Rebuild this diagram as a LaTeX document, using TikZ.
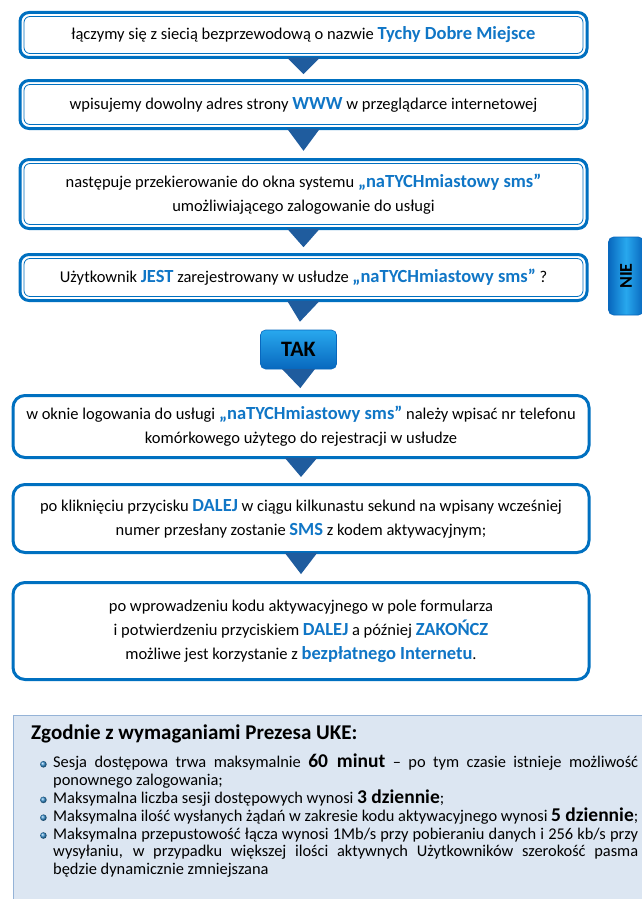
\documentclass[tikz,border=0pt]{standalone}
\usepackage{fontspec}
\setmainfont{Carlito}
\usetikzlibrary{positioning,calc}

\definecolor{ramka}{RGB}{0,112,192}
\definecolor{niebieski}{RGB}{16,118,198}
\definecolor{strzalka}{RGB}{31,92,158}
\definecolor{tlo}{RGB}{220,230,242}
\definecolor{obrys}{RGB}{149,179,215}
\definecolor{jasny}{RGB}{40,168,238}
\definecolor{ciemny}{RGB}{8,104,190}

\newcommand{\tekst}{\fontsize{16.5}{24}\selectfont}
\newcommand{\wyr}[1]{\textcolor{niebieski}{\bfseries\fontsize{18.5}{24}\selectfont #1}}
\newcommand{\grub}[1]{{\bfseries\fontsize{19.5}{17.8}\selectfont #1}}
\newcommand{\kropka}{\tikz[baseline=-3.6pt]\shade[ball color=ramka!80] (0,0) circle (3.3pt);}
\newcommand{\punkt}{\leavevmode\llap{\kropka\hspace{6.5pt}}}
\newcommand{\trojkat}[2]{\fill[strzalka] ($(#1.south)+(-16.5pt,0)$) -- ($(#1.south)+(16.5pt,0)$)
  -- ($(#1.south)!0.72!(#2.north)$) -- cycle;}

\begin{document}
\begin{tikzpicture}[x=1pt,y=1pt,
    krok/.style={draw=ramka,line width=3pt,rounded corners=9pt,fill=white,minimum width=567pt,
      align=center,font=\tekst,outer sep=0pt,inner sep=0pt},
    etap/.style={krok,rounded corners=12pt,minimum width=576pt},
    wewn/.style={draw=ramka,line width=0.8pt,rounded corners=6pt},
    przycisk/.style={rounded corners=5pt,top color=jasny,bottom color=ciemny,draw=ciemny,
      line width=0.6pt,font=\bfseries\fontsize{22}{22}\selectfont,outer sep=0pt}]
  \useasboundingbox (0,0) rectangle (641,-899);

  \node[krok,minimum height=45pt] (k1) at (303.5,-35)
    {łączymy się z siecią bezprzewodową o nazwie \wyr{Tychy Dobre Miejsce}};
  \node[krok,minimum height=48pt] (k2) [below=23pt of k1]
    {wpisujemy dowolny adres strony \wyr{WWW} w przeglądarce internetowej};
  \node[krok,minimum height=69pt] (k3) [below=31pt of k2]
    {następuje przekierowanie do okna systemu \wyr{„naTYCHmiastowy sms”}\\
     umożliwiającego zalogowanie do usługi};
  \node[krok,minimum height=46pt] (k4) [below=26pt of k3]
    {Użytkownik \wyr{JEST} zarejestrowany w usłudze \wyr{„naTYCHmiastowy sms”} ?};
  \foreach \n in {k1,k2,k3,k4}
    \draw[wewn] ($(\n.north west)+(4pt,-4pt)$) rectangle ($(\n.south east)+(-4pt,4pt)$);

  \node[przycisk,minimum width=76pt,minimum height=39pt] (tak) [below=29.5pt of k4,xshift=-5pt] {TAK};
  \node[przycisk,left color=ciemny,right color=ciemny,middle color=jasny,minimum width=78pt,
    minimum height=35pt,font=\bfseries\fontsize{18}{18}\selectfont,rotate=90] (nie) at (626,-276) {NIE};

  \node[etap,minimum height=62pt] (k5) [below=26.5pt of tak,xshift=2.5pt]
    {w oknie logowania do usługi \wyr{„naTYCHmiastowy sms”} należy wpisać nr telefonu\\
     komórkowego użytego do rejestracji w usłudze};
  \node[etap,minimum height=68pt] (k6) [below=27pt of k5]
    {po kliknięciu przycisku \wyr{DALEJ} w ciągu kilkunastu sekund na wpisany wcześniej\\
     numer przesłany zostanie \wyr{SMS} z kodem aktywacyjnym;};
  \node[etap,minimum height=97pt] (k7) [below=30pt of k6]
    {po wprowadzeniu kodu aktywacyjnego w pole formularza\\
     i potwierdzeniu przyciskiem \wyr{DALEJ} a później \wyr{ZAKOŃCZ}\\
     możliwe jest korzystanie z \wyr{bezpłatnego Internetu}.};

  \trojkat{k1}{k2}
  \trojkat{k2}{k3}
  \trojkat{k3}{k4}
  \trojkat{k4}{tak}
  \trojkat{tak}{k5}
  \trojkat{k5}{k6}
  \trojkat{k6}{k7}

  \node[fill=tlo,draw=obrys,line width=1pt,minimum width=660pt,minimum height=200pt,anchor=north west,
    outer sep=0pt] (uke) at (13,-715) {};
  \node[font=\bfseries\fontsize{21}{22}\selectfont,inner sep=0pt] (tytul)
    [below right=10pt and 18pt of uke.north west] {Zgodnie z wymaganiami Prezesa UKE:};
  \node[text width=585pt,align=justify,inner sep=0pt,font=\fontsize{16.4}{17.8}\selectfont]
    (lista) [below right=39pt and 40pt of uke.north west] {%
    \lineskiplimit=-20pt\hyphenpenalty=10000\parskip=0pt\parindent=0pt
    \punkt Sesja dostępowa trwa maksymalnie \grub{60 minut} – po tym czasie istnieje możliwość\linebreak
      ponownego zalogowania;\par
    \punkt Maksymalna liczba sesji dostępowych wynosi \grub{3 dziennie};\par
    \punkt Maksymalna ilość wysłanych żądań w zakresie kodu aktywacyjnego wynosi \grub{5 dziennie};\par
    \punkt Maksymalna przepustowość łącza wynosi 1Mb/s przy pobieraniu danych i 256 kb/s przy\linebreak
      wysyłaniu, w przypadku większej ilości aktywnych Użytkowników szerokość pasma\linebreak
      będzie dynamicznie zmniejszana\par};
\end{tikzpicture}
\end{document}
